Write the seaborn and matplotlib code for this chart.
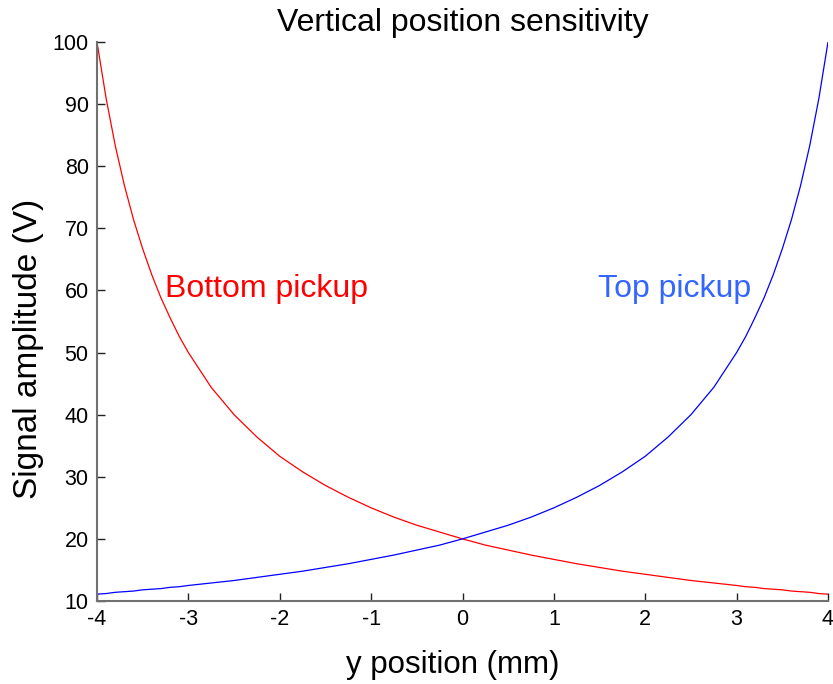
import matplotlib
matplotlib.use("Agg")
import matplotlib.pyplot as plt
import seaborn as sns
import pandas as pd

# y position (mm)
y_pos = [-4.0, -3.9, -3.8, -3.7, -3.6, -3.5, -3.4, -3.3, -3.2, -3.1, -3.0,
         -2.75, -2.5, -2.25, -2.0, -1.75, -1.5, -1.25, -1.0, -0.75, -0.5, -0.25,
         0.0, 0.25, 0.5, 0.75, 1.0, 1.25, 1.5, 1.75, 2.0, 2.25, 2.5, 2.75,
         3.0, 3.1, 3.2, 3.3, 3.4, 3.5, 3.6, 3.7, 3.8, 3.9, 4.0]

# Signal amplitude (V)
top_pickup = [11.1, 11.2, 11.4, 11.5, 11.6, 11.8, 11.9, 12.0, 12.2, 12.3, 12.5,
              12.9, 13.3, 13.8, 14.3, 14.8, 15.4, 16.0, 16.7, 17.4, 18.2, 19.0,
              20.0, 21.1, 22.2, 23.5, 25.0, 26.7, 28.6, 30.8, 33.3, 36.4, 40.0, 44.4,
              50.0, 52.6, 55.6, 58.8, 62.5, 66.7, 71.4, 76.9, 83.3, 90.9, 100.0]

bottom_pickup = [100.0, 90.9, 83.3, 76.9, 71.4, 66.7, 62.5, 58.8, 55.6, 52.6, 50.0,
                 44.4, 40.0, 36.4, 33.3, 30.8, 28.6, 26.7, 25.0, 23.5, 22.2, 21.1,
                 20.0, 19.0, 18.2, 17.4, 16.7, 16.0, 15.4, 14.8, 14.3, 13.8, 13.3, 12.9,
                 12.5, 12.3, 12.2, 12.0, 11.9, 11.8, 11.6, 11.5, 11.4, 11.2, 11.1]

x_ticks = [-4, -3, -2, -1, 0, 1, 2, 3, 4]
x_tick_labels = ["-4", "-3", "-2", "-1", "0", "1", "2", "3", "4"]
y_ticks = [10, 20, 30, 40, 50, 60, 70, 80, 90, 100]
y_tick_labels = ["10", "20", "30", "40", "50", "60", "70", "80", "90", "100"]

sns.set_theme(style="ticks")
plt.rcParams["font.family"] = ["Liberation Sans", "DejaVu Sans"]

df = pd.DataFrame({"y": y_pos, "top": top_pickup, "bottom": bottom_pickup})

fig = plt.figure(figsize=(8.33, 6.84), dpi=100)
ax = fig.add_axes([97/833, 83/684, (828-97)/833, (601-42)/684])

sns.lineplot(data=df, x="y", y="bottom", color="#ff0000", linewidth=0.9, ax=ax)
sns.lineplot(data=df, x="y", y="top", color="#0000ff", linewidth=0.9, ax=ax)

ax.set_xlim(-4, 4)
ax.set_ylim(10, 100)
ax.set_xticks(x_ticks)
ax.set_xticklabels(x_tick_labels)
ax.set_yticks(y_ticks)
ax.set_yticklabels(y_tick_labels)

for s in ["top", "right"]:
    ax.spines[s].set_visible(False)
for s in ["left", "bottom"]:
    ax.spines[s].set_color("#707070")
    ax.spines[s].set_linewidth(1.5)

ax.tick_params(axis="both", direction="in", length=6, width=1, color="#222222",
               labelsize=15.5, labelcolor="black", pad=6)

ax.set_title("Vertical position sensitivity", fontsize=23, color="black", pad=8)
ax.set_xlabel("y position (mm)", fontsize=22.5, color="black", labelpad=14)
ax.set_ylabel("Signal amplitude (V)", fontsize=24, color="black", labelpad=6)
ax.xaxis.label.set_x(0.486)
ax.yaxis.label.set_y(0.451)

ax.text(-3.26, 60.3, "Bottom pickup", color="#ff0000", fontsize=23,
        ha="left", va="center")
ax.text(1.48, 60.3, "Top pickup", color="#3366ff", fontsize=23,
        ha="left", va="center")

fig.savefig("out.png", dpi=100)
